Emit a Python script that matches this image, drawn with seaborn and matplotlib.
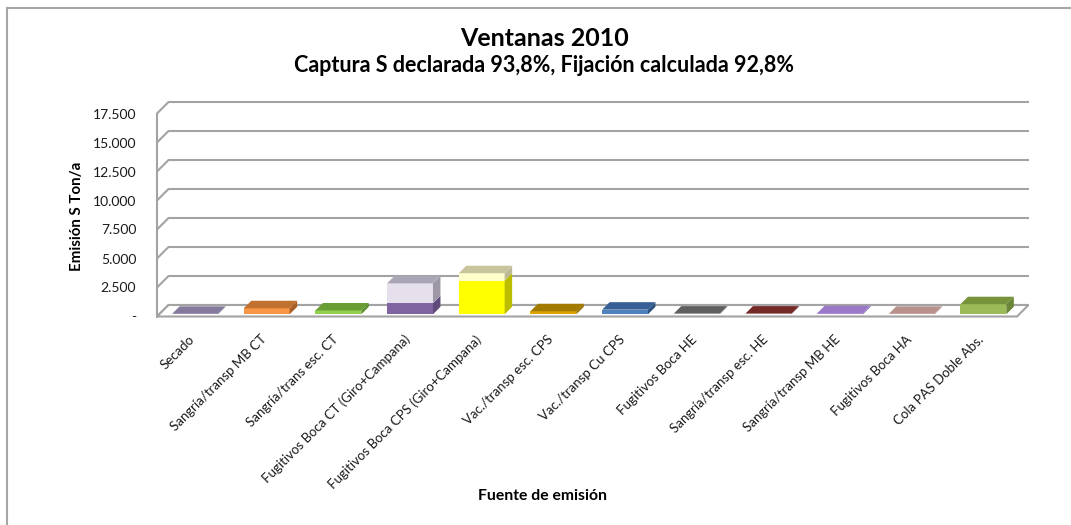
import matplotlib
matplotlib.use("Agg")
import matplotlib.pyplot as plt
from matplotlib.patches import Polygon
from matplotlib.lines import Line2D
from matplotlib import transforms
import seaborn as sns

# --- data -------------------------------------------------------------
fuentes = [
    "Secado",
    "Sangría/transp MB CT",
    "Sangría/trans esc. CT",
    "Fugitivos Boca CT (Giro+Campana)",
    "Fugitivos Boca CPS (Giro+Campana)",
    "Vac./transp esc. CPS",
    "Vac./transp Cu CPS",
    "Fugitivos Boca HE",
    "Sangría/transp esc. HE",
    "Sangría/transp MB HE",
    "Fugitivos Boca HA",
    "Cola PAS Doble Abs.",
]
emision_base = [40, 520, 330, 950, 2900, 260, 400, 60, 60, 90, 40, 870]
emision_extra = [0, 0, 0, 1720, 640, 0, 0, 0, 0, 0, 0, 0]

y_ticks = [0, 2500, 5000, 7500, 10000, 12500, 15000, 17500]
y_tick_labels = ["-", "2.500", "5.000", "7.500", "10.000", "12.500", "15.000", "17.500"]

# front / side / top shades of each column
base_front = ["#9183A8", "#F79646", "#92D050", "#8064A2", "#FFFF00", "#DDA300",
              "#4F81BD", "#7F7F7F", "#953735", "#B394E0", "#D8B2AE", "#9BBB59"]
base_side = ["#6E6585", "#A85E25", "#5E8E2E", "#5F4A7B", "#BDBD00", "#9C7000",
             "#2E5180", "#4A4A4A", "#5E1F1E", "#7D5FA8", "#9E7C78", "#6A8535"]
base_top = ["#857A9C", "#C0702F", "#6A9E35", "#6A5189", "#D6D600", "#A27A00",
            "#386096", "#5F5F5F", "#762A28", "#9C78C8", "#B8918D", "#77933C"]
extra_front = ["#E6E0EC", "#FFFFCC"]
extra_side = ["#9E97A8", "#BDBB96"]
extra_top = ["#ABA6B5", "#C8C49C"]

totals = [b + e for b, e in zip(emision_base, emision_extra)]
extra_idx = [i for i, e in enumerate(emision_extra) if e > 0]
total_palette = list(base_front)
for k, i in enumerate(extra_idx):
    total_palette[i] = extra_front[k]

# --- figure -----------------------------------------------------------
sns.set_theme(style="white")
plt.rcParams["font.family"] = ["Lato", "DejaVu Sans"]

W, H = 1071, 525
fig = plt.figure(figsize=(W / 100, H / 100), dpi=100)
fig.patch.set_facecolor("white")

x_left, x_right = 157, 1017
y_zero, y_top = 316.5, 113.5
ax = fig.add_axes([x_left / W, 1 - y_zero / H, (x_right - x_left) / W, (y_zero - y_top) / H])
ax.set_xlim(-0.5, len(fuentes) - 0.5)
ax.set_ylim(0, 17500)
ax.patch.set_visible(False)
for s in ax.spines.values():
    s.set_visible(False)

n = len(fuentes)
bar_w = 0.64
sns.barplot(x=fuentes, y=totals, hue=fuentes, palette=total_palette, legend=False,
            width=bar_w, saturation=1, edgecolor="none", linewidth=0, ax=ax, zorder=3)
total_patches = list(ax.patches)
sns.barplot(x=fuentes, y=emision_base, hue=fuentes, palette=base_front, legend=False,
            width=bar_w, saturation=1, edgecolor="none", linewidth=0, ax=ax, zorder=3)
base_patches = [pt for pt in ax.patches if pt not in total_patches]
ax.set_xlim(-0.5, n - 0.5)
ax.set_ylim(0, 17500)

# pixel -> data conversions for the oblique depth
o = ax.transData.transform((0, 0))
p = ax.transData.transform((1, 1))
px_x, px_y = p[0] - o[0], p[1] - o[1]
wall = 11.5     # depth of back wall, px
bar_off = 2.2   # columns sit slightly behind the front edge, px
bar_d = 7.5     # column depth, px
wx, wy = wall / px_x, wall / px_y
dx, dy = bar_d / px_x, bar_d / px_y

grid_c = "#A3A3A3"
lw = 1.5
x0a, x1a = -0.5, n - 0.5

# back wall gridlines and left wall edges
for v in y_ticks:
    ax.add_line(Line2D([x0a + wx, x1a + wx], [v + wy, v + wy], color=grid_c, lw=lw,
                       zorder=1, clip_on=False, solid_capstyle="butt"))
    ax.add_line(Line2D([x0a, x0a + wx], [v, v + wy], color=grid_c, lw=lw,
                       zorder=1, clip_on=False))
ax.add_line(Line2D([x0a, x0a], [0, y_ticks[-1]], color=grid_c, lw=lw, zorder=1, clip_on=False))
# floor
ax.add_patch(Polygon([(x0a, 0), (x1a, 0), (x1a + wx, wy), (x0a + wx, wy)], closed=True,
                     facecolor="white", edgecolor=grid_c, lw=lw, zorder=1.5, clip_on=False))

# shift columns into depth and add their side/top faces
bar_trans = transforms.offset_copy(ax.transData, fig=fig, x=bar_off, y=bar_off, units="dots")
for pt in total_patches + base_patches:
    pt.set_transform(bar_trans)
    pt.set_clip_on(False)


def faces(x0, w, y0, y1, side_c, top_c, draw_top):
    xr = x0 + w
    ax.add_patch(Polygon([(xr, y0), (xr + dx, y0 + dy), (xr + dx, y1 + dy), (xr, y1)],
                         closed=True, facecolor=side_c, edgecolor="none",
                         transform=bar_trans, zorder=3, clip_on=False))
    if draw_top:
        ax.add_patch(Polygon([(x0, y1), (xr, y1), (xr + dx, y1 + dy), (x0 + dx, y1 + dy)],
                             closed=True, facecolor=top_c, edgecolor="none",
                             transform=bar_trans, zorder=3, clip_on=False))


k = 0
for i, bp in enumerate(base_patches):
    x0, w = bp.get_x(), bp.get_width()
    has_extra = emision_extra[i] > 0
    faces(x0, w, 0, emision_base[i], base_side[i], base_top[i], not has_extra)
    if has_extra:
        faces(x0, w, emision_base[i], totals[i], extra_side[k], extra_top[k], True)
        k += 1

# ticks
ax.set_yticks(y_ticks)
ax.set_yticklabels(y_tick_labels)
ax.tick_params(axis="y", length=0, pad=15, labelsize=10, labelcolor="#1a1a1a")
ax.set_xticks(range(n))
ax.set_xticklabels(fuentes, rotation=45, ha="right", va="center", rotation_mode="anchor")
ax.tick_params(axis="x", length=0, pad=15, labelsize=9.5, labelcolor="#1a1a1a")
ax.set_xlabel("")
ax.set_ylabel("")

# titles
fig.text(545 / W, 1 - 38 / H, "Ventanas 2010", ha="center", va="center",
         fontsize=18, fontweight="bold", color="black")
fig.text(544 / W, 1 - 66 / H, "Captura S declarada 93,8%, Fijación calculada 92,8%",
         ha="center", va="center", fontsize=15.5, fontweight="bold", color="black")
fig.text(77 / W, 1 - 216 / H, "Emisión S Ton/a", ha="center", va="center", rotation=90,
         fontsize=10.9, fontweight="bold", color="black")
fig.text(542 / W, 1 - 496 / H, "Fuente de emisión", ha="center", va="center",
         fontsize=11.3, fontweight="bold", color="black")

# chart frame
fig.add_artist(Line2D([7 / W, 7 / W], [0, 1 - 8 / H], transform=fig.transFigure,
                      color="#A6A6A6", lw=1.5))
fig.add_artist(Line2D([7 / W, 1], [1 - 8 / H, 1 - 8 / H], transform=fig.transFigure,
                      color="#A6A6A6", lw=1.5))

fig.savefig("out.png", dpi=100, facecolor="white")
